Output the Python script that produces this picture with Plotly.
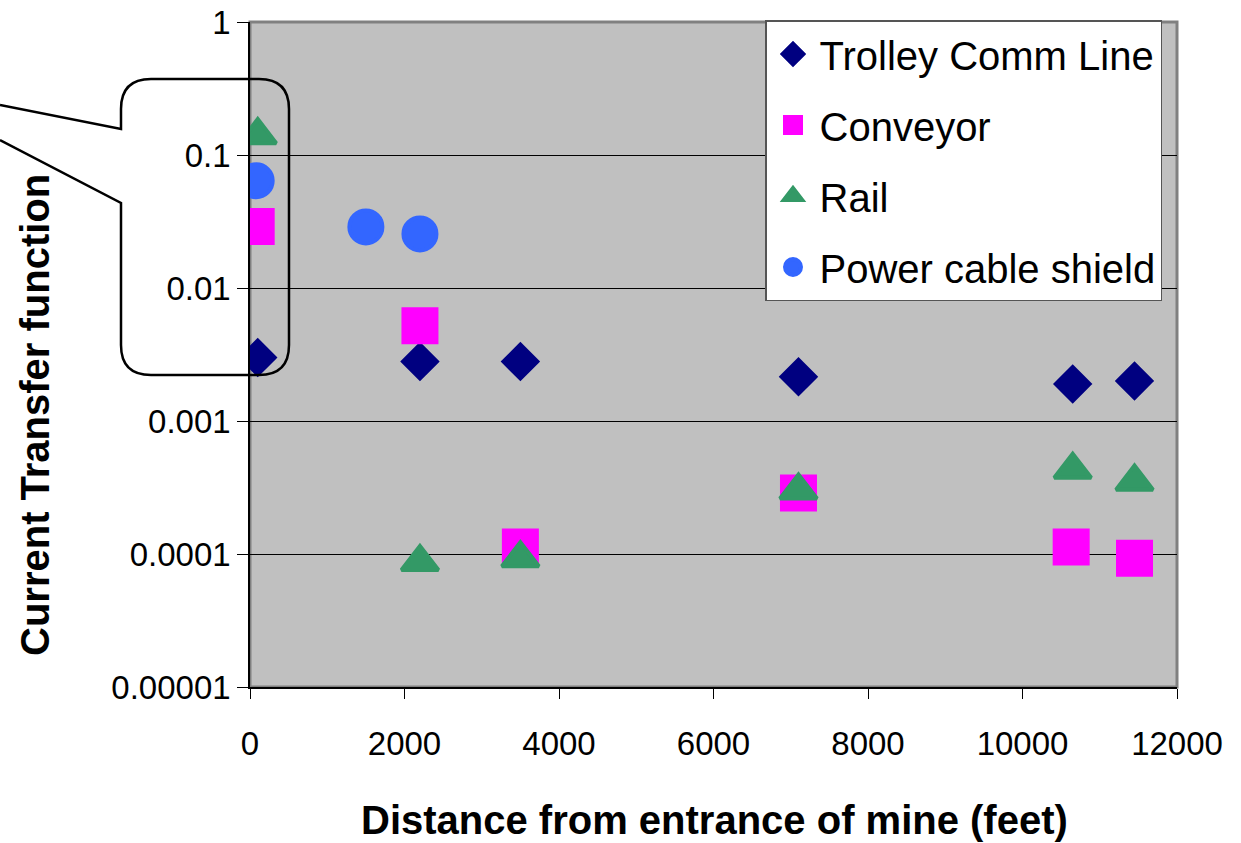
import plotly.graph_objects as go

# ---------------- data ----------------
trolley_x = [100, 2200, 3500, 7100, 10650, 11450]
trolley_y = [0.0030, 0.0028, 0.0028, 0.00215, 0.0019, 0.0020]

conveyor_x = [80, 2200, 3500, 7100, 10630, 11450]
conveyor_y = [0.029, 0.0052, 0.000113, 0.000288, 0.000113, 0.000093]

rail_x = [100, 2200, 3500, 7100, 10650, 11450]
rail_y = [0.141, 0.000087, 0.000093, 0.00030, 0.00043, 0.00035]

shield_x = [80, 1500, 2200]
shield_y = [0.064, 0.0288, 0.0255]

y_tickvals = [0.00001, 0.0001, 0.001, 0.01, 0.1, 1]
y_ticktext = ["0.00001", "0.0001", "0.001", "0.01", "0.1", "1"]
x_tickvals = [0, 2000, 4000, 6000, 8000, 10000, 12000]
x_ticktext = ["0", "2000", "4000", "6000", "8000", "10000", "12000"]

FONT = "Liberation Sans, Arial, sans-serif"

W, H = 1241, 843
ML, MR, MT, MB = 250, 64, 22, 156
PW, PH = W - ML - MR, H - MT - MB


def px(x):
    return (x - ML) / PW


def py(y):
    return (H - MB - y) / PH


fig = go.Figure()

series = [
    ("Trolley Comm Line", trolley_x, trolley_y, "diamond", "#000080", 26),
    ("Conveyor", conveyor_x, conveyor_y, "square", "#FF00FF", 33),
    ("Rail", rail_x, rail_y, "triangle-up", "#339966", 32),
    ("Power cable shield", shield_x, shield_y, "circle", "#3366FF", 33),
]
for name, xs, ys, sym, col, sz in series:
    fig.add_trace(go.Scatter(
        x=xs, y=ys, mode="markers", name=name, legendgroup=name,
        marker=dict(symbol=sym, color=col, size=sz,
                    line=dict(color=col, width=4)),
    ))

# callout outline (decorative), pixel coordinates converted to paper
pts = [
    ("M", [(0, 105)]), ("L", [(121, 129)]), ("L", [(121, 109)]),
    ("Q", [(121, 79), (151, 79)]), ("L", [(259, 79)]),
    ("Q", [(289, 79), (289, 109)]), ("L", [(289, 345)]),
    ("Q", [(289, 375), (259, 375)]), ("L", [(151, 375)]),
    ("Q", [(121, 375), (121, 345)]), ("L", [(121, 203)]), ("L", [(0, 140)]),
]
path = " ".join(
    cmd + " " + " ".join(f"{px(a):.5f},{py(b):.5f}" for a, b in p) for cmd, p in pts
)

fig.update_layout(
    width=W, height=H,
    margin=dict(l=ML, r=MR, t=MT, b=MB, autoexpand=False),
    paper_bgcolor="white",
    plot_bgcolor="#C0C0C0",
    font=dict(family=FONT, color="black"),
    showlegend=True,
    legend=dict(
        x=px(765), y=py(20), xanchor="left", yanchor="top",
        bgcolor="white", bordercolor="#555555", borderwidth=1.5,
        font=dict(family=FONT, size=40, color="black"),
        tracegroupgap=16, traceorder="grouped", itemwidth=43,
    ),
    shapes=[
        dict(type="rect", xref="paper", yref="paper", x0=0, x1=1, y0=0, y1=1,
             line=dict(color="#808080", width=3), layer="below"),
        dict(type="path", xref="paper", yref="paper", path=path,
             line=dict(color="black", width=2.5), layer="above"),
    ],
    annotations=[
        dict(text="<b>Current Transfer function</b>", xref="paper", yref="paper",
             x=px(35), y=py(415), xanchor="center", yanchor="middle",
             textangle=-90, showarrow=False,
             font=dict(family=FONT, size=40, color="black")),
        dict(text="<b>Distance from entrance of mine (feet)</b>", xref="paper", yref="paper",
             x=px(714), y=py(820), xanchor="center", yanchor="middle", showarrow=False,
             font=dict(family=FONT, size=40, color="black")),
    ],
)

fig.update_xaxes(
    range=[0, 12000], tickvals=x_tickvals, ticktext=x_ticktext,
    showgrid=False, zeroline=False, automargin=False,
    showline=True, linecolor="black", linewidth=1.5,
    ticks="outside", ticklen=10, tickcolor="black", tickwidth=1,
    tickfont=dict(family=FONT, size=33, color="black"),
    ticklabelstandoff=17, ticklabeloverflow="allow",
)
fig.update_yaxes(
    type="log", range=[-5, 0], tickvals=y_tickvals, ticktext=y_ticktext,
    showgrid=True, gridcolor="black", gridwidth=1, zeroline=False, automargin=False,
    showline=True, linecolor="black", linewidth=1.5,
    ticks="outside", ticklen=11, tickcolor="black", tickwidth=1,
    tickfont=dict(family=FONT, size=33, color="black"),
    ticklabeloverflow="allow",
)

fig.write_html(
    "out.html",
    config={"displayModeBar": False},
    post_script="document.body.style.margin='0';document.body.style.overflow='hidden';",
)
